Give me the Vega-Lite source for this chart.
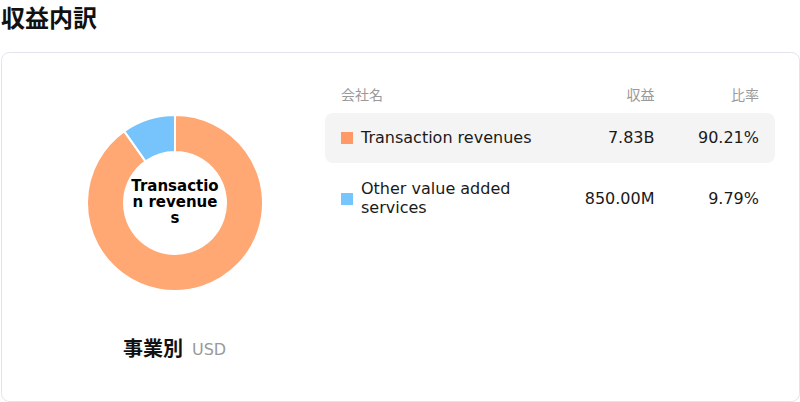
{
  "$schema": "https://vega.github.io/schema/vega-lite/v6.json",
  "width": 798,
  "height": 349,
  "padding": {"left": 1, "top": 8, "right": 1, "bottom": 1},
  "background": "white",
  "title": {
    "text": "収益内訳",
    "anchor": "start",
    "frame": "group",
    "font": "Noto Sans CJK JP",
    "fontSize": 24,
    "fontWeight": "bold",
    "color": "#111111",
    "offset": 20
  },
  "config": {
    "font": "DejaVu Sans",
    "view": {"stroke": "#e4e3ec", "strokeWidth": 1, "cornerRadius": 8}
  },
  "datasets": {
    "segments": [
      {"segment": "Transaction revenues", "displayName": "Transaction revenues", "revenue": 7830000000, "revenueText": "7.83B", "share": 0.9021},
      {"segment": "Other value added services", "displayName": "Other value added\nservices", "revenue": 850000000, "revenueText": "850.00M", "share": 0.0979}
    ],
    "columns": [
      {"row": "header", "column": "name", "header": "会社名"},
      {"row": "header", "column": "revenue", "header": "収益"},
      {"row": "header", "column": "share", "header": "比率"}
    ],
    "caption": [
      {"caption": "事業別", "unit": "USD"}
    ]
  },
  "layer": [
    {
      "encoding": {
        "x": {"datum": "chart", "type": "nominal", "axis": null,
              "scale": {"type": "point", "domain": ["chart"], "range": [0, 348]}},
        "y": {"datum": "chart", "type": "nominal", "axis": null,
              "scale": {"type": "point", "domain": ["chart", "caption"], "range": [151, 298], "padding": 0}}
      },
      "layer": [
        {
          "data": {"name": "segments"},
          "mark": {"type": "arc", "innerRadius": 51, "outerRadius": 88, "stroke": "white", "strokeWidth": 2},
          "encoding": {
            "theta": {"field": "revenue", "type": "quantitative", "stack": true},
            "order": {"field": "revenue", "type": "quantitative", "sort": "descending"},
            "color": {"field": "segment", "type": "nominal", "legend": null,
                      "scale": {"domain": ["Transaction revenues", "Other value added services"], "range": ["#ffa873", "#77c4fc"]}}
          }
        },
        {
          "data": {"name": "segments"},
          "transform": [{"filter": "datum.segment === 'Transaction revenues'"}],
          "mark": {"type": "text", "fontSize": 15, "fontWeight": "bold", "lineHeight": 16, "baseline": "middle", "dy": -17.5, "color": "#000000"},
          "encoding": {"text": {"value": ["Transactio", "n revenue", "s"]}}
        },
        {
          "data": {"name": "caption"},
          "mark": {"type": "text", "font": "Noto Sans CJK JP", "fontSize": 20, "fontWeight": "bold", "align": "right", "baseline": "middle", "xOffset": 8, "color": "#111111"},
          "encoding": {
            "y": {"datum": "caption", "type": "nominal"},
            "text": {"field": "caption"}
          }
        },
        {
          "data": {"name": "caption"},
          "mark": {"type": "text", "fontSize": 16, "align": "left", "baseline": "middle", "xOffset": 17, "color": "#999999"},
          "encoding": {
            "y": {"datum": "caption", "type": "nominal"},
            "text": {"field": "unit"}
          }
        }
      ]
    },
    {
      "layer": [
        {
          "data": {"name": "segments"},
          "transform": [{"filter": "datum.segment === 'Transaction revenues'"}],
          "mark": {"type": "rect", "fill": "#f4f4f5", "cornerRadius": 8, "xOffset": -16, "x2Offset": 16},
          "encoding": {
            "x": {"datum": "name", "type": "nominal", "axis": null,
                  "scale": {"type": "point", "domain": ["name", "name-2", "name-3", "revenue", "share"], "range": [340, 758], "padding": 0}},
            "x2": {"datum": "share"},
            "y": {"field": "segment", "type": "nominal", "axis": null,
                  "scale": {"type": "band", "domain": ["header", "Transaction revenues", "Other value added services"], "range": [0, 172], "paddingInner": 0.18, "paddingOuter": 0}}
          }
        },
        {
          "data": {"name": "columns"},
          "transform": [{"filter": "datum.column === 'name'"}],
          "mark": {"type": "text", "font": "Noto Sans CJK JP", "fontSize": 14, "align": "left", "baseline": "middle", "color": "#999999"},
          "encoding": {
            "x": {"field": "column", "type": "nominal", "axis": null},
            "y": {"field": "row", "type": "nominal", "axis": null, "bandPosition": 0.88},
            "text": {"field": "header"}
          }
        },
        {
          "data": {"name": "columns"},
          "transform": [{"filter": "datum.column !== 'name'"}],
          "mark": {"type": "text", "font": "Noto Sans CJK JP", "fontSize": 14, "align": "right", "baseline": "middle", "color": "#999999"},
          "encoding": {
            "x": {"field": "column", "type": "nominal", "axis": null},
            "y": {"field": "row", "type": "nominal", "axis": null, "bandPosition": 0.88},
            "text": {"field": "header"}
          }
        },
        {
          "data": {"name": "segments"},
          "mark": {"type": "square", "size": 144, "opacity": 1, "xOffset": 6},
          "encoding": {
            "x": {"datum": "name", "type": "nominal", "axis": null},
            "y": {"field": "segment", "type": "nominal", "axis": null},
            "fill": {"field": "segment", "type": "nominal", "legend": null,
                     "scale": {"domain": ["Transaction revenues", "Other value added services"], "range": ["#ff9966", "#75c6ff"]}}
          }
        },
        {
          "data": {"name": "segments"},
          "transform": [{"filter": "datum.segment === 'Transaction revenues'"}],
          "mark": {"type": "text", "fontSize": 16, "align": "left", "baseline": "middle", "xOffset": 20, "color": "#1a1a1a"},
          "encoding": {
            "x": {"datum": "name", "type": "nominal", "axis": null},
            "y": {"field": "segment", "type": "nominal", "axis": null},
            "text": {"field": "displayName"}
          }
        },
        {
          "data": {"name": "segments"},
          "transform": [{"filter": "datum.segment !== 'Transaction revenues'"}],
          "mark": {"type": "text", "fontSize": 16, "align": "left", "baseline": "middle", "lineBreak": "\n", "lineHeight": 19, "dy": -9.5, "xOffset": 20, "color": "#1a1a1a"},
          "encoding": {
            "x": {"datum": "name", "type": "nominal", "axis": null},
            "y": {"field": "segment", "type": "nominal", "axis": null},
            "text": {"field": "displayName"}
          }
        },
        {
          "data": {"name": "segments"},
          "mark": {"type": "text", "fontSize": 16, "align": "right", "baseline": "middle", "color": "#1a1a1a"},
          "encoding": {
            "x": {"datum": "revenue", "type": "nominal", "axis": null},
            "y": {"field": "segment", "type": "nominal", "axis": null},
            "text": {"field": "revenueText"}
          }
        },
        {
          "data": {"name": "segments"},
          "mark": {"type": "text", "fontSize": 16, "align": "right", "baseline": "middle", "color": "#1a1a1a"},
          "encoding": {
            "x": {"datum": "share", "type": "nominal", "axis": null},
            "y": {"field": "segment", "type": "nominal", "axis": null},
            "text": {"field": "share", "type": "quantitative", "format": ".2%"}
          }
        }
      ]
    }
  ],
  "resolve": {"scale": {"x": "independent", "y": "independent"}}
}
